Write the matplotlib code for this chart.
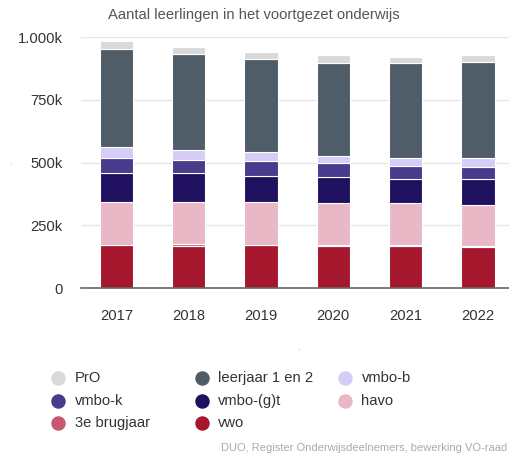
import numpy as np
import matplotlib
matplotlib.use("Agg")
import matplotlib.pyplot as plt
from matplotlib.lines import Line2D

plt.rcParams.update({"font.family": ["Liberation Sans", "DejaVu Sans"], "font.size": 10.6})

# data (x 1000 leerlingen)
years = ["2017", "2018", "2019", "2020", "2021", "2022"]
vwo = [170, 168, 170, 169, 169, 165]
brugjaar3 = [3, 6, 2, 1, 1, 1]
havo = [171, 170, 172, 168, 168, 165]
vmbo_gt = [116, 113, 104, 103, 96, 103]
vmbo_k = [60, 54, 59, 58, 54, 50]
vmbo_b = [43, 39, 34, 29, 29, 33]
leerjaar12 = [389, 383, 372, 368, 379, 384]
pro = [32, 27, 28, 32, 27, 27]

yticks = [0, 250, 500, 750, 1000]
ytick_labels = ["0", "250k", "500k", "750k", "1.000k"]

# stacking order bottom -> top
series = [
    ("vwo", vwo, "#a4172d"),
    ("3e brugjaar", brugjaar3, "#c8566e"),
    ("havo", havo, "#e9b8c6"),
    ("vmbo-(g)t", vmbo_gt, "#1f1060"),
    ("vmbo-k", vmbo_k, "#4a3a8c"),
    ("vmbo-b", vmbo_b, "#d4cdf5"),
    ("leerjaar 1 en 2", leerjaar12, "#4f5d68"),
    ("PrO", pro, "#d9d9d9"),
]
colors = {name: c for name, _, c in series}

W, H = 509, 455
fig = plt.figure(figsize=(W / 100, H / 100), dpi=100)
ax = fig.add_axes([81 / W, 1 - 288 / H, 428 / W, (288 - 37.3) / H])

x = np.arange(len(years))
bottom = np.zeros(len(years))
for name, vals, c in series:
    vals = np.array(vals, dtype=float)
    ax.bar(x, vals, bottom=bottom, width=0.46, color=c, edgecolor="white", linewidth=0.8, zorder=3)
    bottom += vals

ax.set_xlim(-0.49, 5.43)
ax.set_ylim(0, 1000)
ax.set_yticks(yticks)
ax.set_yticklabels(ytick_labels)
ax.set_xticks(x)
ax.set_xticklabels(years)
ax.tick_params(axis="both", length=0, colors="#333333", labelsize=10.6)
ax.tick_params(axis="y", pad=13)
ax.tick_params(axis="x", pad=15)
ax.grid(axis="y", color="#e6e6e6", linewidth=1, zorder=0)
for s in ["top", "right", "left"]:
    ax.spines[s].set_visible(False)
ax.spines["bottom"].set_color("#666666")
ax.spines["bottom"].set_linewidth(1.2)
ax.spines["bottom"].set_zorder(4)

fig.text(254 / W, 1 - 15 / H, "Aantal leerlingen in het voortgezet onderwijs",
         ha="center", va="center", color="#555555", fontsize=10.6)

# axis titles are just dots in the original
fig.text(10 / W, 1 - 163 / H, ".", ha="center", va="center", color="#999999", fontsize=6)
fig.text(298 / W, 1 - 349 / H, ".", ha="center", va="center", color="#999999", fontsize=6)

# legend, row-major in fixed columns
legend_order = ["PrO", "leerjaar 1 en 2", "vmbo-b", "vmbo-k", "vmbo-(g)t", "havo", "3e brugjaar", "vwo"]
col_x = [58.3, 201.7, 345.0]
row_y = [378.3, 401.0, 423.3]
for i, name in enumerate(legend_order):
    r, c = divmod(i, 3)
    fig.add_artist(Line2D([col_x[c] / W], [1 - row_y[r] / H], marker="o", markersize=9.4,
                          color=colors[name], linestyle="none", transform=fig.transFigure))
    fig.text((col_x[c] + 16.5) / W, 1 - row_y[r] / H, name, ha="left", va="center",
             color="#333333", fontsize=10.6)

fig.text(507 / W, 1 - 448 / H, "DUO, Register Onderwijsdeelnemers, bewerking VO-raad",
         ha="right", va="center", color="#aaaaaa", fontsize=8)

fig.savefig("out.png", dpi=100)
